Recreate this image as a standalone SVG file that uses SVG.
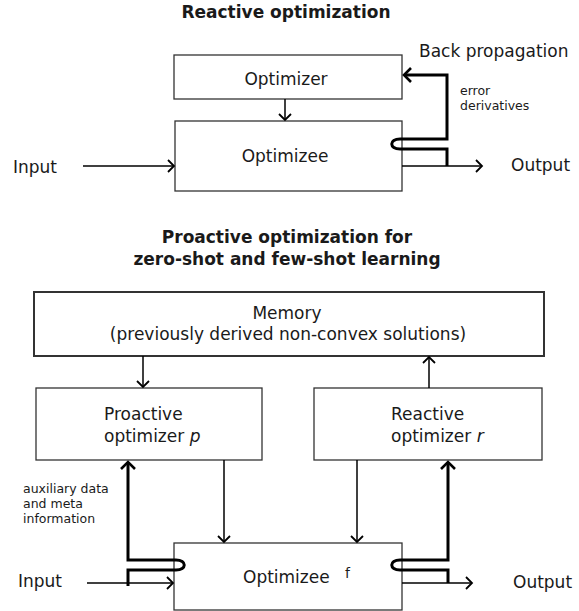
<svg xmlns="http://www.w3.org/2000/svg" width="579" height="611" viewBox="0 0 579 611">
<style>
text{font-family:"DejaVu Sans","Liberation Sans",sans-serif;fill:#1a1a1a;font-size:17px}
.t{font-weight:bold;text-anchor:middle}
.c{text-anchor:middle}
.s{font-size:12.5px}
.box{fill:#fff;stroke:#333;stroke-width:1.3}
.thin{fill:none;stroke:#000;stroke-width:1.5}
.thick{fill:none;stroke:#000;stroke-width:3}
</style>
<defs>
<marker id="a" markerUnits="userSpaceOnUse" markerWidth="16" markerHeight="16" refX="9" refY="8" orient="auto">
<path d="M3,2 L9,8 L3,14" fill="none" stroke="#000" stroke-width="1.8"/>
</marker>
<marker id="b" markerUnits="userSpaceOnUse" markerWidth="18" markerHeight="18" refX="10" refY="9" orient="auto">
<path d="M3,2 L10,9 L3,16" fill="none" stroke="#000" stroke-width="2.6"/>
</marker>
</defs>
<text class="t" x="286" y="18">Reactive optimization</text>
<text class="t" x="287" y="243">Proactive optimization for</text>
<text class="t" x="287" y="265">zero-shot and few-shot learning</text>
<g id="optimizer">
<rect class="box" x="174" y="55" width="228" height="44"/>
<text class="c" x="286" y="85">Optimizer</text>
</g>
<g id="optimizee">
<rect class="box" x="175" y="121" width="227" height="70"/>
<text class="c" x="285" y="162">Optimizee</text>
</g>
<g id="memory">
<rect class="box" x="34" y="292" width="510" height="64" style="stroke-width:2"/>
<text class="c" x="287" y="319">Memory</text>
<text class="c" x="288" y="340">(previously derived non-convex solutions)</text>
</g>
<g id="proactive">
<rect class="box" x="36" y="388" width="226" height="72"/>
<text x="104" y="420">Proactive</text>
<text x="104" y="442">optimizer <tspan font-style="italic">p</tspan></text>
</g>
<g id="reactive">
<rect class="box" x="314" y="388" width="228" height="72"/>
<text x="391" y="420">Reactive</text>
<text x="391" y="442">optimizer <tspan font-style="italic">r</tspan></text>
</g>
<g id="optimizee-f">
<rect class="box" x="174" y="543" width="228" height="67"/>
<text x="243" y="583">Optimizee</text>
<text x="345" y="578" style="font-size:14px">f</text>
</g>
<g id="labels">
<text x="13" y="173">Input</text>
<text x="511" y="171">Output</text>
<text x="419" y="57">Back propagation</text>
<text class="s" x="460" y="95">error</text>
<text class="s" x="460" y="110">derivatives</text>
<text class="s" x="23" y="493">auxiliary data</text>
<text class="s" x="23" y="508">and meta</text>
<text class="s" x="23" y="523">information</text>
<text x="18" y="587">Input</text>
<text x="513" y="588">Output</text>
</g>
<g id="connectors">
<path class="thin" d="M285,99 L285,120" marker-end="url(#a)"/>
<path class="thin" d="M83,166 L174,166" marker-end="url(#a)"/>
<path class="thin" d="M402,166 L482,166" marker-end="url(#a)"/>
<path class="thick" d="M447,166 L447,149 L400,149 C389,149 389,139 400,139 L447,139 L447,75 L404,75" marker-end="url(#b)"/>
<path class="thin" d="M143,356 L143,387" marker-end="url(#a)"/>
<path class="thin" d="M429,388 L429,357" marker-end="url(#a)"/>
<path class="thin" d="M224,460 L224,542" marker-end="url(#a)"/>
<path class="thin" d="M357,460 L357,542" marker-end="url(#a)"/>
<path class="thick" d="M128,586 L128,570 L176,570 C187,570 187,560 176,560 L128,560 L128,462" marker-end="url(#b)"/>
<path class="thick" d="M448,583 L448,570 L400,570 C389,570 389,560 400,560 L448,560 L448,462" marker-end="url(#b)"/>
<path class="thin" d="M87,583 L173,583" marker-end="url(#a)"/>
<path class="thin" d="M402,583 L472,583" marker-end="url(#a)"/>
</g>
</svg>
